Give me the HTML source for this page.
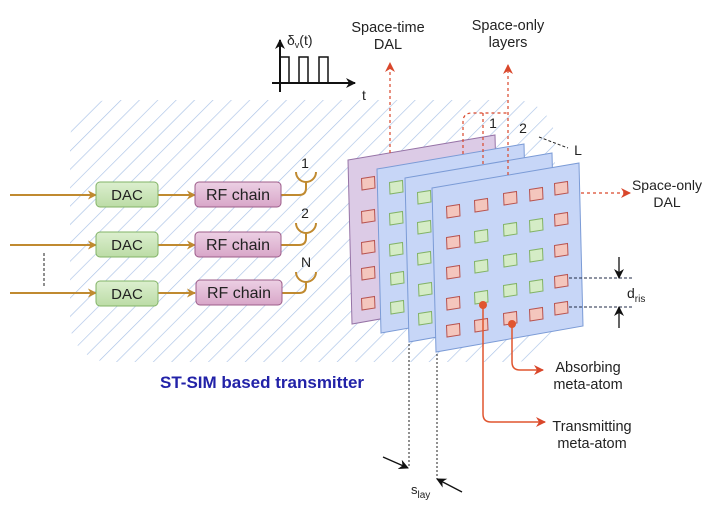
<!DOCTYPE html>
<html><head><meta charset="utf-8"><style>
html,body{margin:0;padding:0;background:#fff;}
svg{display:block;}
text{font-family:"Liberation Sans",Arial,sans-serif;fill:#222;}
</style></head><body>
<svg width="720" height="507" viewBox="0 0 720 507" xmlns="http://www.w3.org/2000/svg">
<defs>
<pattern id="hatch" width="13" height="13" patternUnits="userSpaceOnUse" patternTransform="rotate(45)">
<line x1="0" y1="0" x2="0" y2="13" stroke="#a9c2e6" stroke-width="1.3"/>
</pattern>
<linearGradient id="gG" x1="0" y1="0" x2="0" y2="1"><stop offset="0" stop-color="#dcefcf"/><stop offset="1" stop-color="#bcdca6"/></linearGradient>
<linearGradient id="gP" x1="0" y1="0" x2="0" y2="1"><stop offset="0" stop-color="#ecd0e4"/><stop offset="1" stop-color="#d8a6c8"/></linearGradient>
<marker id="ao" viewBox="0 0 10 10" refX="9" refY="5" markerWidth="9" markerHeight="9" orient="auto" markerUnits="userSpaceOnUse"><path d="M0,0 L10,5 L0,10 L3,5 Z" fill="#c08a30"/></marker>
<marker id="ar" viewBox="0 0 10 10" refX="9" refY="5" markerWidth="10" markerHeight="10" orient="auto" markerUnits="userSpaceOnUse"><path d="M0,0 L10,5 L0,10 L3,5 Z" fill="#d9472b"/></marker>
<marker id="ak" viewBox="0 0 10 10" refX="9" refY="5" markerWidth="10" markerHeight="10" orient="auto" markerUnits="userSpaceOnUse"><path d="M0,0 L10,5 L0,10 L3,5 Z" fill="#111"/></marker>
<g id="atR"><polygon points="-6.5,-4.5 6.5,-6.5 7,5 -6,7" fill="#f4c6bd" stroke="#b85450" stroke-width="1"/></g>
<g id="atG"><polygon points="-6.5,-4.5 6.5,-6.5 7,5 -6,7" fill="#d5ecc6" stroke="#82b366" stroke-width="1"/></g>
</defs>

<!-- hatch background -->
<rect x="70" y="100" width="485" height="262" rx="40" ry="40" fill="url(#hatch)"/>

<!-- timing diagram -->
<line x1="272" y1="83" x2="355" y2="83" stroke="#111" stroke-width="2" marker-end="url(#ak)"/>
<line x1="280" y1="92" x2="280" y2="40" stroke="#111" stroke-width="2" marker-end="url(#ak)"/>
<path d="M280,83 V57 H289 V83 M299,83 V57 H308 V83 M319,83 V57 H328 V83" fill="none" stroke="#111" stroke-width="1.5"/>
<text x="287" y="45" font-size="14">δ<tspan font-size="9" dy="3">v</tspan><tspan dy="-3">(t)</tspan></text>
<text x="362" y="100" font-size="14">t</text>

<!-- top labels -->
<text x="388" y="32" font-size="14.5" text-anchor="middle">Space-time</text>
<text x="388" y="49" font-size="14.5" text-anchor="middle">DAL</text>
<text x="508" y="30" font-size="14.5" text-anchor="middle">Space-only</text>
<text x="508" y="47" font-size="14.5" text-anchor="middle">layers</text>

<!-- left chains -->
<g stroke="#c08a30" stroke-width="2" fill="none">
<line x1="10" y1="195" x2="96" y2="195" marker-end="url(#ao)"/>
<line x1="10" y1="245" x2="96" y2="245" marker-end="url(#ao)"/>
<line x1="10" y1="293" x2="96" y2="293" marker-end="url(#ao)"/>
<line x1="158" y1="195" x2="195" y2="195" marker-end="url(#ao)"/>
<line x1="158" y1="245" x2="195" y2="245" marker-end="url(#ao)"/>
<line x1="158" y1="293" x2="195" y2="293" marker-end="url(#ao)"/>
<path d="M281,195 H299 Q306,195 306,188 V182"/>
<path d="M296,172 A10,10 0 0 0 316,172"/>
<path d="M281,245 H299 Q306,245 306,238 V233"/>
<path d="M296,223 A10,10 0 0 0 316,223"/>
<path d="M282,293 H299 Q306,293 306,286 V282"/>
<path d="M296,272 A10,10 0 0 0 316,272"/>
</g>
<line x1="44" y1="253" x2="44" y2="286" stroke="#222" stroke-width="1" stroke-dasharray="3,2"/>

<g stroke="#82b366" stroke-width="1" fill="url(#gG)">
<rect x="96" y="182" width="62" height="25" rx="4"/>
<rect x="96" y="232" width="62" height="25" rx="4"/>
<rect x="96" y="281" width="62" height="25" rx="4"/>
</g>
<g stroke="#9c5c8a" stroke-width="1" fill="url(#gP)">
<rect x="195" y="182" width="86" height="25" rx="4"/>
<rect x="195" y="232" width="86" height="25" rx="4"/>
<rect x="196" y="280" width="86" height="25" rx="4"/>
</g>
<g font-size="15" text-anchor="middle">
<text x="127" y="200">DAC</text>
<text x="127" y="250">DAC</text>
<text x="127" y="299">DAC</text>
<text x="238" y="200" font-size="16">RF chain</text>
<text x="238" y="250" font-size="16">RF chain</text>
<text x="239" y="298" font-size="16">RF chain</text>
</g>
<g font-size="14" text-anchor="middle">
<text x="305" y="168">1</text>
<text x="305" y="218">2</text>
<text x="306" y="267">N</text>
</g>

<!-- panels -->
<polygon points="348,160 495,135 499,298 352,324" fill="#dccbe6" stroke="#9673a6" stroke-width="1"/>
<g>
<use href="#atR" x="368" y="183"/><use href="#atR" x="368" y="216"/><use href="#atR" x="368" y="247"/><use href="#atR" x="368" y="273"/><use href="#atR" x="368" y="303"/>
</g>
<polygon points="377,169 524,144 528,307 381,333" fill="#c7d6f7" stroke="#7b9bd6" stroke-width="1"/>
<g>
<use href="#atG" x="396" y="187"/><use href="#atG" x="396" y="218"/><use href="#atG" x="396" y="249"/><use href="#atG" x="397" y="278"/><use href="#atG" x="397" y="307"/>
</g>
<polygon points="405,178 552,153 556,316 409,342" fill="#c7d6f7" stroke="#7b9bd6" stroke-width="1"/>
<g>
<use href="#atG" x="424" y="197"/><use href="#atG" x="424" y="227"/><use href="#atG" x="424" y="258"/><use href="#atG" x="425" y="289"/><use href="#atG" x="425" y="318"/>
</g>
<polygon points="432,188 579,163 583,326 436,352" fill="#c7d6f7" stroke="#7b9bd6" stroke-width="1"/>
<g>
<use href="#atR" x="453" y="211"/><use href="#atR" x="481" y="205"/><use href="#atR" x="510" y="198"/><use href="#atR" x="536" y="194"/><use href="#atR" x="561" y="188"/>
<use href="#atR" x="453" y="242"/><use href="#atG" x="481" y="236"/><use href="#atG" x="510" y="229"/><use href="#atG" x="536" y="225"/><use href="#atR" x="561" y="219"/>
<use href="#atR" x="453" y="272"/><use href="#atG" x="481" y="266"/><use href="#atG" x="510" y="260"/><use href="#atG" x="536" y="255"/><use href="#atR" x="561" y="250"/>
<use href="#atR" x="453" y="303"/><use href="#atG" x="481" y="297"/><use href="#atG" x="510" y="290"/><use href="#atG" x="536" y="286"/><use href="#atR" x="561" y="281"/>
<use href="#atR" x="453" y="330"/><use href="#atR" x="481" y="325"/><use href="#atR" x="510" y="318"/><use href="#atR" x="536" y="314"/><use href="#atR" x="561" y="308"/>
</g>

<!-- red dashed lines -->
<g stroke="#d9472b" stroke-width="1.2" fill="none" stroke-dasharray="3,3">
<line x1="390" y1="153" x2="390" y2="63" marker-end="url(#ar)"/>
<line x1="508" y1="175" x2="508" y2="65" marker-end="url(#ar)"/>
<path d="M463,154 V122 Q463,113 472,113 H508"/>
<line x1="483" y1="113" x2="483" y2="165"/>
<line x1="581" y1="193" x2="630" y2="193" marker-end="url(#ar)"/>
</g>
<g font-size="14" text-anchor="middle">
<text x="667" y="190">Space-only</text>
<text x="667" y="207">DAL</text>
<text x="493" y="128">1</text>
<text x="523" y="133">2</text>
<text x="578" y="155">L</text>
</g>
<line x1="539" y1="137" x2="568" y2="148" stroke="#222" stroke-width="1" stroke-dasharray="3,2"/>

<!-- d_ris -->
<g stroke="#1f2a44" stroke-width="1" stroke-dasharray="3,2">
<line x1="569" y1="278" x2="634" y2="278"/>
<line x1="569" y1="307" x2="634" y2="307"/>
</g>
<line x1="619" y1="257" x2="619" y2="278" stroke="#111" stroke-width="1.3" marker-end="url(#ak)"/>
<line x1="619" y1="328" x2="619" y2="307" stroke="#111" stroke-width="1.3" marker-end="url(#ak)"/>
<text x="627" y="298" font-size="14">d<tspan font-size="10" dy="4">ris</tspan></text>

<!-- meta-atom pointers -->
<g stroke="#e0552f" stroke-width="1.5" fill="none">
<path d="M512,324 V362 Q512,370 520,370 H543" marker-end="url(#ar)"/>
<path d="M483,305 V414 Q483,422 491,422 H545" marker-end="url(#ar)"/>
</g>
<circle cx="483" cy="305" r="4" fill="#e0552f"/>
<circle cx="512" cy="324" r="4" fill="#e0552f"/>
<g font-size="14.5" text-anchor="middle">
<text x="588" y="372">Absorbing</text>
<text x="588" y="389">meta-atom</text>
<text x="592" y="431">Transmitting</text>
<text x="592" y="448">meta-atom</text>
</g>

<!-- s_lay -->
<g stroke="#222" stroke-width="1" stroke-dasharray="2,2">
<line x1="409" y1="344" x2="409" y2="468"/>
<line x1="437" y1="354" x2="437" y2="479"/>
</g>
<line x1="383" y1="457" x2="408" y2="468" stroke="#111" stroke-width="1.3" marker-end="url(#ak)"/>
<line x1="462" y1="492" x2="437" y2="479" stroke="#111" stroke-width="1.3" marker-end="url(#ak)"/>
<text x="411" y="494" font-size="13">s<tspan font-size="10" dy="4">lay</tspan></text>

<!-- caption -->
<text x="160" y="388" font-size="17" font-weight="bold" style="fill:#2222a8">ST-SIM based transmitter</text>
</svg>
</body></html>
